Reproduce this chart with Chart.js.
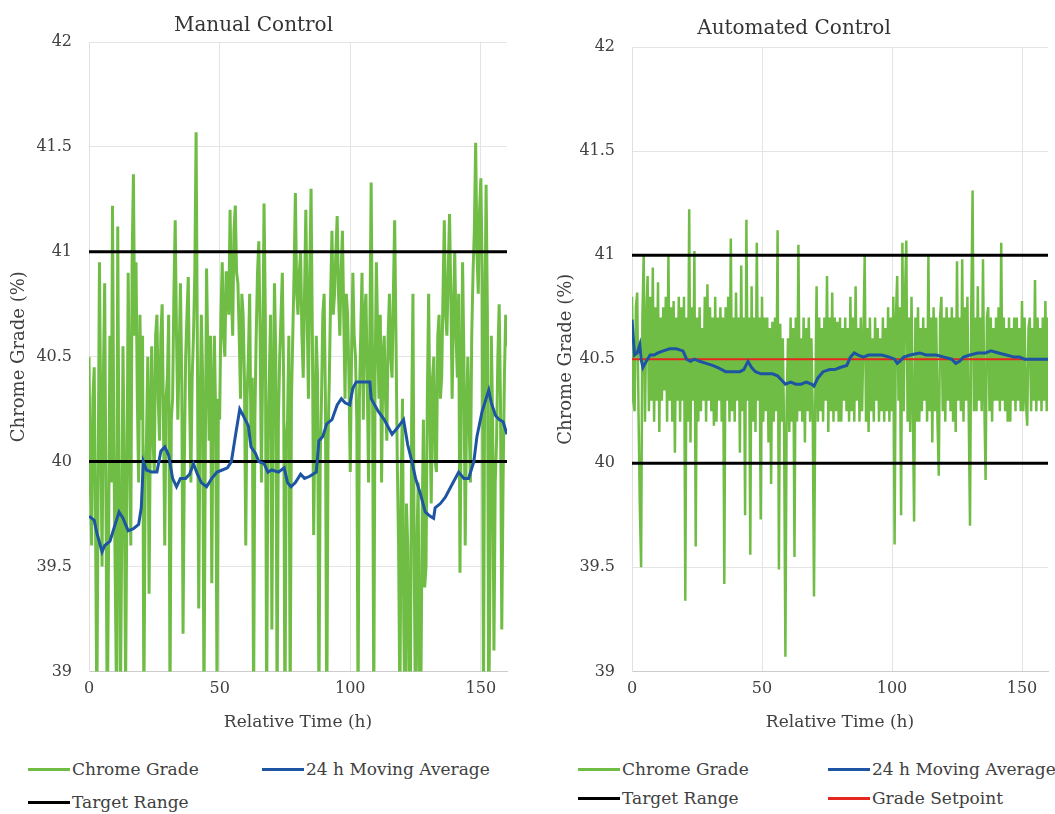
<!DOCTYPE html>
<html>
<head>
<meta charset="utf-8">
<script src="https://cdn.jsdelivr.net/npm/chart.js@4.4.0/dist/chart.umd.min.js"></script>
<style>
  body { margin: 0; background: #fff; width: 1055px; height: 814px; position: relative; overflow: hidden; font-family: "DejaVu Serif", serif; }
  canvas { position: absolute; top: 0; }
  #manualChart { left: 0; }
  #autoChart { left: 540px; }
  .item { position: absolute; white-space: nowrap; display: flex; align-items: center; font-size: 17px; line-height: 20px; color: #404040; }
  .swatch { display: inline-block; width: 42px; height: 3px; margin-right: 2px; }
</style>
</head>
<body>
<canvas id="manualChart" width="530" height="740"></canvas>
<canvas id="autoChart" width="515" height="740"></canvas>
<div id="legends"></div>
<script>
// samples every half hour, 0..160 h
var hours = Array.from({ length: 321 }, function (_, i) { return i / 2; });

var manualGrade = [
  40.5, 39.9, 39.6, 40.3, 40.45, 39.7, 38.8, 39.9, 40.95, 40.2,
  39.5, 40.4, 40.85, 39.8, 38.7, 39.6, 40.6, 39.9, 41.22, 40.1,
  39.5, 38.9, 41.12, 39.9, 38.8, 39.6, 40.55, 40.0, 38.9, 39.8,
  40.9, 40.2, 39.6, 40.95, 41.37, 40.6, 40.95, 40.3, 39.9, 40.7,
  40.2, 40.6, 38.8, 39.9, 40.1, 40.5, 39.37, 40.2, 40.55, 40.1,
  39.95, 40.6, 40.7, 40.3, 40.1, 40.6, 40.75, 40.2, 39.6, 40.3,
  40.4, 40.7, 38.8, 40.2, 40.3, 40.8, 41.15, 40.6, 40.2, 40.5,
  40.85, 40.4, 39.18, 40.0, 40.5, 40.7, 40.88, 40.3, 39.9, 40.4,
  40.6, 40.9, 41.57, 40.5, 39.3, 40.2, 40.7, 40.4, 38.8, 40.0,
  40.92, 40.5, 40.1, 40.6, 39.42, 40.3, 40.6, 40.2, 38.9, 40.3,
  40.2, 40.7, 40.95, 40.6, 40.5, 40.9, 40.9, 40.7, 41.2, 40.8,
  40.6, 41.1, 41.22, 40.9, 40.85, 40.6, 40.3, 40.8, 40.7, 40.4,
  39.6, 40.3, 40.5, 40.8, 40.1, 40.4, 38.8, 40.2, 40.6, 40.9,
  41.05, 40.6, 39.9, 40.5, 41.23, 40.7, 38.8, 40.1, 40.4, 40.7,
  39.2, 40.3, 40.85, 40.5, 38.8, 40.2, 40.5, 40.7, 40.9, 40.4,
  38.7, 40.1, 40.2, 40.6, 38.8, 40.3, 40.6, 40.9, 41.28, 40.8,
  40.7, 40.9, 41.0, 40.6, 40.4, 40.8, 41.2, 40.7, 40.3, 40.9,
  41.3, 40.6, 39.65, 40.2, 40.6, 40.4, 38.8, 40.0, 40.3, 40.7,
  40.8, 40.3, 38.7, 40.1, 40.4, 40.8, 41.1, 40.7, 40.8, 41.0,
  41.17, 40.8, 40.6, 40.9, 41.1, 40.7, 40.3, 40.8, 40.7, 40.4,
  39.95, 40.5, 40.9, 40.6, 40.5, 40.2, 38.8, 40.3, 40.6, 40.9,
  40.2, 40.7, 40.8, 40.4, 39.9, 40.6, 41.33, 40.5, 38.8, 40.4,
  40.95, 40.6, 40.3, 40.7, 39.9, 40.5, 40.6, 40.3, 40.1, 40.6,
  40.8, 40.5, 40.4, 40.8, 41.15, 40.6, 40.0, 39.6, 38.8, 39.9,
  40.3, 39.2, 38.7, 39.8, 39.6, 38.9, 38.8, 40.2, 40.8, 39.5,
  38.7, 39.6, 39.9, 38.8, 38.8, 39.7, 40.2, 39.4, 39.5, 40.3,
  40.8, 40.2, 39.8, 40.4, 40.5, 40.0, 39.95, 40.6, 40.7, 40.3,
  40.4, 40.8, 41.15, 40.7, 40.6, 40.9, 41.18, 40.8, 40.3, 40.7,
  41.0, 40.6, 40.4, 40.8, 39.47, 40.3, 40.95, 40.5, 39.6, 40.2,
  40.5, 40.2, 39.9, 40.6, 40.9, 41.1, 41.52, 41.0, 40.8, 41.2,
  41.35, 40.9, 38.8, 40.6, 41.32, 40.7, 38.7, 39.5, 40.6, 40.2,
  39.1, 39.9, 40.1, 40.5, 40.75, 40.3, 39.2, 39.9, 40.4, 40.7,
  40.55
];

var manualAvgHours = [
  0, 2, 3, 5, 6, 8, 10, 11.5, 13, 15, 17, 19, 20, 20.8, 22, 24, 26, 27.5, 29, 30.5,
  32, 33.5, 35, 37, 38.5, 40, 41.5, 43, 45, 47, 49, 51, 53, 54.5, 56, 57.7, 59, 61, 62, 63.7,
  65, 67, 68.5, 70, 72.5, 74.7, 76, 77.3, 79, 81, 82.5, 84.5, 87, 88, 89.5, 91, 93, 95, 96.6, 98,
  99.8, 101, 102.3, 105, 107.5, 108, 110.7, 113, 116, 118, 120.4, 122, 123.6, 125, 127, 128.7, 130.5, 131.9, 132.5, 134.5,
  136.4, 138.5, 141.5, 143.5, 145.3, 147.3, 148.5, 150.5, 152, 153, 154, 155.6, 157, 158.5, 160
];
var manualAvg = [
  39.74, 39.72, 39.66, 39.57, 39.6, 39.62, 39.7, 39.76, 39.73, 39.67, 39.68, 39.7, 39.78, 40.0, 39.96, 39.95, 39.95, 40.05, 40.07, 40.03,
  39.92, 39.88, 39.92, 39.92, 39.94, 39.99, 39.94, 39.9, 39.88, 39.92, 39.95, 39.96, 39.97, 40.0, 40.12, 40.25, 40.22, 40.17, 40.07, 40.04,
  40.0, 39.99, 39.95, 39.96, 39.95, 39.97, 39.9, 39.88, 39.9, 39.94, 39.92, 39.93, 39.95, 40.1, 40.12, 40.18, 40.2, 40.27, 40.3, 40.28,
  40.27, 40.35, 40.38, 40.38, 40.38, 40.3, 40.24, 40.2, 40.13, 40.16, 40.2, 40.08, 40.0, 39.92, 39.84, 39.76, 39.74, 39.73, 39.78, 39.8,
  39.83, 39.88, 39.95, 39.92, 39.92, 40.0, 40.12, 40.24, 40.3, 40.34, 40.28, 40.22, 40.2, 40.19, 40.13
];

var autoGrade = [
  40.8, 40.3, 40.25, 40.75, 40.82, 40.25, 39.8, 39.5, 40.7, 41.0,
  40.2, 40.7, 40.9, 40.25, 40.8, 40.3, 40.94, 40.2, 40.75, 40.3,
  40.87, 40.15, 40.7, 40.3, 40.75, 40.35, 40.8, 40.2, 41.0, 40.3,
  40.75, 40.2, 40.78, 40.05, 40.7, 40.3, 40.8, 40.2, 40.75, 40.3,
  40.8, 39.34, 40.7, 40.2, 41.22, 40.1, 40.75, 40.3, 41.02, 39.6,
  40.7, 40.2, 40.75, 40.25, 40.65, 40.3, 40.8, 40.2, 40.86, 40.3,
  40.75, 40.25, 40.7, 40.18, 40.8, 40.2, 40.7, 40.3, 40.75, 40.2,
  40.7, 39.42, 40.75, 40.3, 40.8, 40.2, 41.08, 40.25, 40.7, 40.2,
  40.82, 40.3, 40.7, 40.05, 40.95, 40.25, 40.7, 39.75, 41.17, 40.3,
  40.7, 39.56, 40.85, 40.2, 40.7, 40.15, 41.06, 40.3, 40.7, 39.73,
  40.8, 40.2, 40.7, 40.25, 40.7, 40.1, 40.65, 39.9, 40.68, 40.2,
  40.7, 40.25, 41.12, 39.49, 40.67, 40.2, 40.6, 40.15, 39.07, 40.3,
  40.6, 40.15, 40.7, 40.2, 40.65, 39.55, 40.7, 40.2, 41.05, 40.25,
  40.6, 40.2, 40.7, 40.1, 40.65, 40.25, 40.7, 40.2, 40.6, 40.25,
  39.36, 40.3, 40.85, 40.2, 40.7, 40.25, 40.65, 40.2, 40.7, 40.3,
  40.9, 40.15, 40.7, 40.25, 40.82, 40.2, 40.7, 40.25, 40.68, 40.2,
  40.7, 40.2, 40.65, 40.3, 40.7, 40.25, 40.65, 40.2, 40.8, 40.25,
  40.7, 40.2, 40.85, 40.3, 40.65, 40.2, 40.7, 40.25, 40.6, 41.0,
  40.2, 40.65, 40.15, 40.7, 40.25, 40.6, 40.2, 40.7, 40.3, 40.65,
  40.2, 40.6, 40.25, 40.7, 40.2, 40.65, 40.25, 40.75, 40.2, 40.7,
  40.25, 40.8, 39.61, 40.7, 40.9, 40.3, 40.75, 39.75, 41.06, 40.25,
  40.8, 41.07, 40.2, 40.7, 40.15, 40.8, 40.3, 39.72, 40.7, 40.2,
  40.75, 40.2, 40.65, 40.25, 40.7, 40.3, 40.65, 40.2, 41.0, 40.25,
  40.7, 40.1, 40.75, 40.25, 40.7, 40.2, 39.94, 40.7, 40.8, 40.25,
  40.7, 40.2, 40.75, 40.3, 40.7, 40.25, 40.75, 40.2, 40.7, 40.15,
  40.97, 40.3, 40.7, 40.25, 40.98, 40.2, 40.75, 40.3, 40.8, 40.25,
  39.7, 40.75, 41.31, 40.25, 40.7, 40.25, 40.85, 40.3, 40.7, 40.25,
  40.98, 40.3, 39.92, 40.7, 40.75, 40.25, 40.7, 40.2, 40.65, 40.3,
  40.7, 40.3, 40.75, 40.25, 41.06, 40.3, 40.7, 40.25, 40.65, 40.2,
  40.7, 40.2, 40.65, 40.3, 40.7, 40.25, 40.7, 40.3, 40.65, 40.25,
  40.78, 40.25, 40.7, 40.3, 40.18, 40.65, 40.7, 40.25, 40.65, 40.3,
  40.88, 40.25, 40.7, 40.3, 40.65, 40.25, 40.7, 40.3, 40.78, 40.25,
  40.7
];

var autoAvgHours = [
  0, 0.5, 1, 2, 3, 3.5, 4.2, 5.5, 7, 8.5, 10, 12, 14.5, 17, 19.6, 21, 22.5, 24, 26, 28.5,
  31, 33, 36, 38.5, 41.5, 43, 44.6, 46, 47.5, 49.5, 52, 54, 56, 57.5, 59, 61, 63, 65, 67, 69,
  70, 71.5, 73.5, 76, 78, 80, 82.6, 84, 85.5, 87, 89, 91, 94, 96, 99, 101, 102, 103, 104.5, 107,
  110.7, 113, 117, 120, 123, 124.5, 126, 127.5, 130, 133, 136, 138, 141, 144, 147, 149, 151, 155, 160
];
var autoAvg = [
  40.69, 40.6, 40.52, 40.53, 40.57, 40.5, 40.46, 40.49, 40.52, 40.52, 40.53, 40.54, 40.55, 40.55, 40.54, 40.5, 40.49, 40.5, 40.49, 40.48,
  40.47, 40.46, 40.44, 40.44, 40.44, 40.45, 40.49, 40.46, 40.44, 40.43, 40.43, 40.43, 40.42, 40.4, 40.38, 40.39, 40.38, 40.38, 40.39, 40.38,
  40.37, 40.41, 40.44, 40.45, 40.45, 40.46, 40.47, 40.51, 40.53, 40.52, 40.51, 40.52, 40.52, 40.52, 40.51, 40.5, 40.48, 40.49, 40.51, 40.52,
  40.53, 40.52, 40.52, 40.51, 40.5, 40.48, 40.49, 40.51, 40.52, 40.53, 40.53, 40.54, 40.53, 40.52, 40.51, 40.51, 40.5, 40.5, 40.5
];

var targetLow = 40;
var targetHigh = 41;
var gradeSetpoint = 40.5;
var timeRange = [0, 160];
var timeTicks = [0, 50, 100, 150];

var GREEN = '#70bd45';
var BLUE = '#1d55a3';
var RED = '#e5281e';
var BLACK = '#000000';
var TEXT = '#404040';
var FONT = '"DejaVu Serif", serif';

function toPoints(xs, ys) {
  return xs.map(function (x, i) { return { x: x, y: ys[i] }; });
}

function flatLine(value) {
  return [{ x: timeRange[0], y: value }, { x: timeRange[1], y: value }];
}

function buildChart(id, title, grade, avgHours, avg, withSetpoint, pad) {
  var datasets = [
    { label: 'Chrome Grade', data: toPoints(hours, grade), borderColor: GREEN, borderWidth: pad.greenWidth, order: 4 },
    { label: 'Target Range', data: flatLine(targetHigh), borderColor: BLACK, borderWidth: 3, order: 3 },
    { label: 'Target Range', data: flatLine(targetLow), borderColor: BLACK, borderWidth: 3, order: 3 },
    { label: '24 h Moving Average', data: toPoints(avgHours, avg), borderColor: BLUE, borderWidth: 3, order: 0 }
  ];
  if (withSetpoint) {
    datasets.push({ label: 'Grade Setpoint', data: flatLine(gradeSetpoint), borderColor: RED, borderWidth: 2, order: 1 });
  }
  return new Chart(document.getElementById(id).getContext('2d'), {
    type: 'line',
    data: { datasets: datasets },
    options: {
      responsive: false,
      animation: false,
      devicePixelRatio: 1,
      elements: { point: { radius: 0 }, line: { tension: 0 } },
      layout: { padding: pad.layout },
      plugins: {
        legend: { display: false },
        tooltip: { enabled: false },
        title: {
          display: true,
          text: title,
          color: '#333',
          font: { family: FONT, size: 20, weight: 'normal' },
          padding: pad.title
        }
      },
      scales: {
        x: {
          type: 'linear',
          min: timeRange[0],
          max: timeRange[1],
          afterBuildTicks: function (axis) {
            axis.ticks = timeTicks.map(function (v) { return { value: v }; });
          },
          ticks: { color: TEXT, font: { family: FONT, size: 16 }, padding: 8 },
          grid: { color: '#e4e4e4', drawTicks: false },
          border: { color: '#cccccc' },
          title: { display: true, text: 'Relative Time (h)', color: TEXT, font: { family: FONT, size: 17 }, padding: { top: 6, bottom: 0 } }
        },
        y: {
          min: 39,
          max: 42,
          afterFit: function (scale) { scale.width = pad.yWidth; },
          ticks: {
            stepSize: 0.5,
            color: TEXT,
            font: { family: FONT, size: 16 },
            padding: 17,
            callback: function (v) { return String(v); }
          },
          grid: { color: '#e4e4e4', drawTicks: false },
          border: { color: '#e0e0e0' },
          title: { display: true, text: 'Chrome Grade (%)', color: TEXT, font: { family: FONT, size: 18 }, padding: pad.yTitle }
        }
      }
    }
  });
}

buildChart('manualChart', 'Manual Control', manualGrade, manualAvgHours, manualAvg, false, {
  layout: { left: 0, right: 23, top: 0, bottom: 7 },
  title: { top: 14, bottom: 4 },
  yTitle: { top: 9, bottom: 0 },
  yWidth: 89,
  greenWidth: 3
});

buildChart('autoChart', 'Automated Control', autoGrade, autoAvgHours, autoAvg, true, {
  layout: { left: 0, right: 7, top: 0, bottom: 7 },
  title: { top: 17, bottom: 6 },
  yTitle: { top: 16, bottom: 0 },
  yWidth: 92,
  greenWidth: 2.5
});

// legends (HTML, laid out like the original)
var legendItems = [
  ['Chrome Grade', GREEN, 28, 759],
  ['24 h Moving Average', BLUE, 262, 759],
  ['Target Range', BLACK, 28, 792],
  ['Chrome Grade', GREEN, 578, 759],
  ['24 h Moving Average', BLUE, 828, 759],
  ['Target Range', BLACK, 578, 788],
  ['Grade Setpoint', RED, 828, 788]
];
var legendBox = document.getElementById('legends');
legendItems.forEach(function (it) {
  var d = document.createElement('div');
  d.className = 'item';
  d.style.left = it[2] + 'px';
  d.style.top = it[3] + 'px';
  d.innerHTML = '<span class="swatch" style="background:' + it[1] + '"></span>' + it[0];
  legendBox.appendChild(d);
});
</script>
</body>
</html>
